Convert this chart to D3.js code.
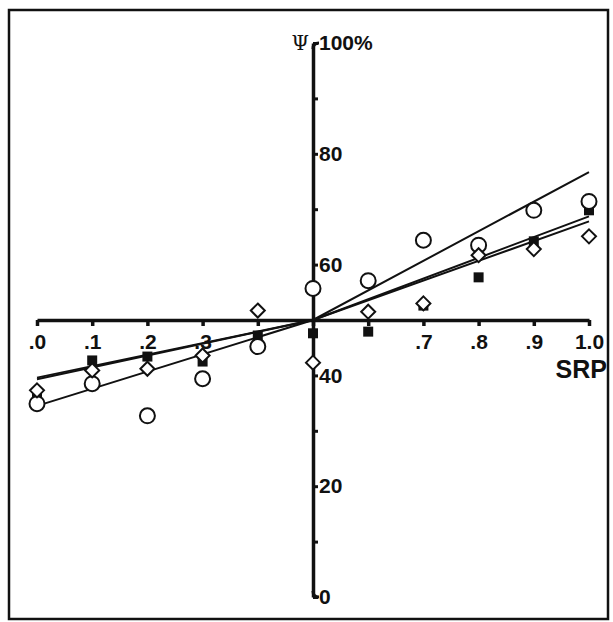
<!DOCTYPE html>
<html><head><meta charset="utf-8">
<script src="https://cdn.jsdelivr.net/npm/d3@7"></script>
<style>body{margin:0;background:#fff}svg{display:block}</style>
</head><body>
<script>
const srp = [0.0,0.1,0.2,0.3,0.4,0.5,0.6,0.7,0.8,0.9,1.0];
const circleVals  = [34.9,38.5,32.7,39.4,45.2,55.7,57.1,64.4,63.5,69.8,71.4];
const squareVals  = [36.2,42.7,43.4,42.5,47.2,47.6,47.9,52.6,57.7,64.2,69.8];
const diamondVals = [37.3,40.9,41.2,43.6,51.7,42.3,51.5,53.0,61.7,62.8,65.1];
const fitX = [0.0,0.5,1.0];
const fitCircle  = [34.5,50,76.7];
const fitSquare  = [39.6,50,68.7];
const fitDiamond = [39.3,50,67.8];
const xTickValues = [0,0.1,0.2,0.3,0.4,0.5,0.6,0.7,0.8,0.9,1.0];
const xTickLabels = [".0",".1",".2",".3","","","",".7",".8",".9","1.0"];
const yTickValues = [0,10,20,30,40,50,60,70,80,90,100];
const yTickLabels = ["0","","20","","40","","60","","80","","100%"];

const W=613,H=622;
const svg=d3.select("body").append("svg").attr("width",W).attr("height",H);
svg.append("rect").attr("x",9).attr("y",10).attr("width",599).attr("height",609)
  .attr("fill","none").attr("stroke","#111").attr("stroke-width",2.5);

const x=d3.scaleLinear().domain([0,1]).range([37,589]);
const y=d3.scaleLinear().domain([0,100]).range([597,43]);
const font="'Liberation Sans', Arial, sans-serif";

// X axis
const gx=svg.append("g").attr("transform",`translate(0,${y(50)})`)
  .call(d3.axisBottom(x).tickValues(xTickValues).tickSize(6).tickSizeOuter(0)
    .tickFormat((d,i)=>xTickLabels[i]));
gx.select(".domain").attr("stroke","#111").attr("stroke-width",3.5);
gx.selectAll(".tick line").attr("stroke","#111").attr("stroke-width",3.5);
gx.selectAll(".tick text").attr("font-family",font).attr("font-weight","bold")
  .attr("font-size",21).attr("fill","#111").attr("dy","0.72em").attr("y",14);

// Y axis
const gy=svg.append("g").attr("transform",`translate(${x(0.5)},0)`)
  .call(d3.axisRight(y).tickValues(yTickValues).tickSize(5).tickSizeOuter(0)
    .tickFormat((d,i)=>yTickLabels[i]));
gy.select(".domain").attr("stroke","#111").attr("stroke-width",3.5);
gy.selectAll(".tick line").attr("stroke","#111").attr("stroke-width",3);
gy.selectAll(".tick text").attr("font-family",font).attr("font-weight","bold")
  .attr("font-size",21).attr("fill","#111").attr("x",6);
// hooks at top and bottom of vertical axis
svg.append("path").attr("d",`M${x(0.5)},${y(100)+6} Q${x(0.5)},${y(100)} ${x(0.5)+6},${y(100)}`)
  .attr("fill","none").attr("stroke","#111").attr("stroke-width",3);
svg.append("path").attr("d",`M${x(0.5)},${y(0)-6} Q${x(0.5)},${y(0)} ${x(0.5)+6},${y(0)}`)
  .attr("fill","none").attr("stroke","#111").attr("stroke-width",3);

svg.append("text").attr("x",x(0.5)-4).attr("y",y(100)+7).attr("text-anchor","end")
  .attr("font-family","'DejaVu Serif', serif").attr("font-size",20).attr("fill","#111").text("Ψ");
svg.append("text").attr("x",607).attr("y",378).attr("text-anchor","end")
  .attr("font-family",font).attr("font-weight","bold").attr("font-size",25).attr("fill","#111").text("SRP");

// Fit lines
const line=d3.line().x((d,i)=>x(fitX[i])).y(d=>y(d));
[fitCircle,fitSquare,fitDiamond].forEach(f=>{
  svg.append("path").attr("d",line(f)).attr("fill","none").attr("stroke","#111").attr("stroke-width",2);
});

// Points
const sq=d3.symbol().type(d3.symbolSquare).size(100);
svg.append("g").selectAll("path").data(squareVals).join("path")
  .attr("d",sq).attr("transform",(d,i)=>`translate(${x(srp[i])},${y(d)})`).attr("fill","#111");
svg.append("g").selectAll("circle").data(circleVals).join("circle")
  .attr("cx",(d,i)=>x(srp[i])).attr("cy",d=>y(d)).attr("r",7.5)
  .attr("fill","#fff").attr("stroke","#111").attr("stroke-width",2);
svg.append("g").selectAll("path").data(diamondVals).join("path")
  .attr("d",d=>"M0,-7L7,0L0,7L-7,0Z")
  .attr("transform",(d,i)=>`translate(${x(srp[i])},${y(d)})`)
  .attr("fill","#fff").attr("stroke","#111").attr("stroke-width",2);
</script>
</body></html>
